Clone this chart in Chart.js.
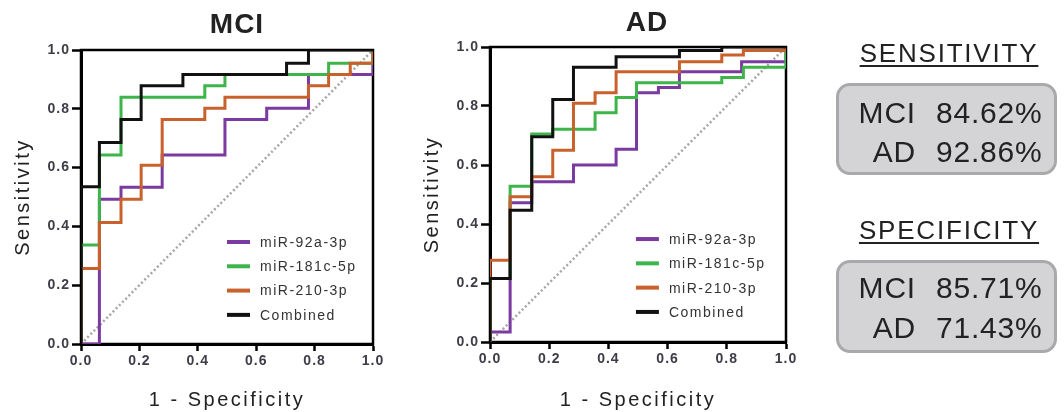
<!DOCTYPE html>
<html>
<head>
<meta charset="utf-8">
<script src="https://cdn.jsdelivr.net/npm/chart.js@4.4.0/dist/chart.umd.min.js"></script>
<style>
  body { margin: 0; background: #fff; width: 1064px; height: 412px; overflow: hidden; position: relative;
         font-family: "Liberation Sans", Arial, sans-serif; color: #222; }
  .plot { position: absolute; top: 0; height: 412px; }
  #mciWrap { left: 0; width: 472px; }
  #adWrap { left: 410px; width: 474px; }
  .ptitle { position: absolute; width: 200px; text-align: center; font-size: 28px; line-height: 28px;
            font-weight: bold; letter-spacing: 1px; color: #222; z-index: 2; }
  .head { position: absolute; left: 838px; width: 222px; text-align: center; font-size: 26px; line-height: 26px;
          letter-spacing: 1.8px; text-decoration: underline; text-decoration-thickness: 1.5px; text-underline-offset: 3px; z-index: 2; }
  .box { position: absolute; left: 836px; width: 221px; box-sizing: border-box; border: 3px solid #a9a9ab;
         border-radius: 14px; background: #d4d4d6; z-index: 2; }
  .row { position: absolute; font-size: 30px; line-height: 30px; letter-spacing: 0.8px; z-index: 3; }
  .lab { text-align: right; left: 836px; width: 80px; }
  .val { left: 936px; }
</style>
</head>
<body>
<div class="plot" id="mciWrap"><canvas id="mci"></canvas></div>
<div class="plot" id="adWrap"><canvas id="ad"></canvas></div>
<div class="ptitle" style="left:137px;top:10px">MCI</div>
<div class="ptitle" style="left:547px;top:8px">AD</div>

<div class="head" style="top:40px">SENSITIVITY</div>
<div class="box" style="top:83px;height:92px"></div>
<div class="row lab" style="top:98px">MCI</div><div class="row val" style="top:98px">84.62%</div>
<div class="row lab" style="top:137px">AD</div><div class="row val" style="top:137px">92.86%</div>

<div class="head" style="top:217px">SPECIFICITY</div>
<div class="box" style="top:260px;height:93px"></div>
<div class="row lab" style="top:273px">MCI</div><div class="row val" style="top:273px">85.71%</div>
<div class="row lab" style="top:313px">AD</div><div class="row val" style="top:313px">71.43%</div>

<script>
// tick values shared by both axes
const axisTicks = [0, 0.2, 0.4, 0.6, 0.8, 1.0];
const seriesNames = ['miR-92a-3p', 'miR-181c-5p', 'miR-210-3p', 'Combined'];
const seriesColors = ['#7a3a9f', '#3db54b', '#c9612c', '#111111'];

// MCI: 1 - specificity (x) and sensitivity (y) at each step of the ROC curves
const mci92aX  = [0, 0.063, 0.137, 0.278, 0.493, 0.636, 0.779, 1.0];
const mci92aY  = [0, 0.492, 0.533, 0.643, 0.764, 0.802, 0.917, 1.0];
const mci181cX = [0, 0, 0.063, 0.137, 0.424, 0.493, 0.848, 1.0];
const mci181cY = [0, 0.337, 0.643, 0.839, 0.878, 0.917, 0.955, 1.0];
const mci210X  = [0, 0, 0.063, 0.137, 0.206, 0.278, 0.424, 0.493, 0.779, 0.848, 0.922, 1.0];
const mci210Y  = [0, 0.257, 0.413, 0.492, 0.608, 0.764, 0.802, 0.839, 0.878, 0.917, 0.955, 1.0];
const mciCombX = [0, 0, 0.063, 0.137, 0.206, 0.349, 0.704, 0.779, 1.0];
const mciCombY = [0, 0.535, 0.685, 0.764, 0.878, 0.917, 0.955, 1.0, 1.0];

// AD
const ad92aX  = [0, 0, 0.068, 0.141, 0.282, 0.426, 0.495, 0.569, 0.640, 0.850, 1.0];
const ad92aY  = [0, 0.034, 0.472, 0.543, 0.600, 0.653, 0.845, 0.863, 0.916, 0.950, 1.0];
const ad181cX = [0, 0, 0.068, 0.141, 0.212, 0.355, 0.426, 0.495, 0.783, 0.856, 1.0];
const ad181cY = [0, 0.215, 0.528, 0.705, 0.721, 0.777, 0.829, 0.879, 0.897, 0.931, 1.0];
const ad210X  = [0, 0, 0.068, 0.141, 0.212, 0.282, 0.355, 0.426, 0.640, 0.783, 0.856, 1.0];
const ad210Y  = [0, 0.277, 0.492, 0.560, 0.650, 0.809, 0.845, 0.916, 0.950, 0.973, 0.988, 1.0];
const adCombX = [0, 0, 0.068, 0.141, 0.212, 0.282, 0.426, 0.640, 0.783, 1.0];
const adCombY = [0, 0.215, 0.447, 0.696, 0.822, 0.931, 0.967, 0.988, 1.0, 1.0];

// chance line
const chanceX = [0, 1];
const chanceY = [0, 1];

const FONT = '"Liberation Sans", Arial, sans-serif';

function pts(xs, ys) {
    return xs.map((x, i) => ({ x: x, y: ys[i] }));
}

// closes the box on top and right
const frame = {
    id: 'frame',
    beforeDatasetsDraw(chart) {
        const { ctx, chartArea: a } = chart;
        ctx.save();
        ctx.strokeStyle = '#000';
        ctx.lineWidth = 2.5;
        ctx.strokeRect(a.left, a.top, a.right - a.left, a.bottom - a.top);
        ctx.restore();
    }
};

// legend drawn inside the plot, lower right
const innerLegend = {
    id: 'innerLegend',
    afterDatasetsDraw(chart, args, opts) {
        const { ctx, chartArea: a } = chart;
        const x = a.left + opts.x * (a.right - a.left);
        let y = a.top + opts.y * (a.bottom - a.top);
        ctx.save();
        ctx.font = '14px ' + FONT;
        ctx.letterSpacing = '1.5px';
        ctx.fillStyle = '#333';
        ctx.textBaseline = 'middle';
        chart.data.datasets.forEach(ds => {
            if (!ds.label) return;
            ctx.strokeStyle = ds.borderColor;
            ctx.lineWidth = 4;
            ctx.beginPath();
            ctx.moveTo(x, y);
            ctx.lineTo(x + 23, y);
            ctx.stroke();
            ctx.fillText(ds.label, x + 33, y + 1);
            y += opts.gap;
        });
        ctx.restore();
    }
};

// wider spacing on axis titles, a little on the rest
const spacing = {
    id: 'spacing',
    beforeDraw(chart) {
        chart.ctx.letterSpacing = '1px';
        Object.values(chart.scales).forEach(s => {
            if (s._spaced) return;
            const orig = s.drawTitle.bind(s);
            s.drawTitle = function () {
                const c = this.ctx;
                const prev = c.letterSpacing;
                c.letterSpacing = '2.5px';
                orig();
                c.letterSpacing = prev;
            };
            s._spaced = true;
        });
    }
};

function makeRoc(canvasId, xs, ys, box) {
    const datasets = seriesNames.map((name, i) => ({
        label: name,
        data: pts(xs[i], ys[i]),
        borderColor: seriesColors[i],
        borderWidth: 3,
        pointRadius: 0,
        stepped: 'before',
        fill: false,
        order: 4 - i
    }));
    datasets.push({
        label: '',
        data: pts(chanceX, chanceY),
        borderColor: '#a6a6a6',
        borderWidth: 2.5,
        borderDash: [2, 2.5],
        pointRadius: 0,
        fill: false,
        order: 10
    });

    const tickFont = { family: FONT, size: 14, weight: 'bold' };
    const titleFont = { family: FONT, size: 20 };

    return new Chart(document.getElementById(canvasId), {
        type: 'line',
        data: { datasets: datasets },
        plugins: [spacing, frame, innerLegend],
        options: {
            responsive: true,
            maintainAspectRatio: false,
            animation: false,
            layout: { padding: { left: 0, bottom: 0, top: box.padTop, right: box.padRight } },
            plugins: {
                legend: { display: false },
                tooltip: { enabled: false },
                innerLegend: { x: box.legX, y: box.legY, gap: 24.3 }
            },
            scales: {
                x: {
                    type: 'linear',
                    min: 0, max: 1,
                    afterBuildTicks: s => { s.ticks = axisTicks.map(v => ({ value: v })); },
                    afterFit: s => { s.height = box.xAxisH; },
                    ticks: { color: '#3d3d48', font: tickFont, padding: 2, maxRotation: 0,
                             callback: v => Number(v).toFixed(1) },
                    grid: { drawOnChartArea: false, drawTicks: true, tickLength: 7, tickWidth: 2.5, tickColor: '#000' },
                    border: { display: true, color: '#000', width: 3 },
                    title: { display: true, text: '1 - Specificity', color: '#222', font: titleFont,
                             padding: { top: box.xTitlePad, bottom: 0 } }
                },
                y: {
                    type: 'linear',
                    min: 0, max: 1,
                    afterBuildTicks: s => { s.ticks = axisTicks.map(v => ({ value: v })); },
                    afterFit: s => { s.width = box.yAxisW; },
                    ticks: { color: '#3d3d48', font: tickFont, padding: 2,
                             callback: v => Number(v).toFixed(1) },
                    grid: { drawOnChartArea: false, drawTicks: true, tickLength: 9, tickWidth: 2.5, tickColor: '#000' },
                    border: { display: true, color: '#000', width: 3 },
                    title: { display: true, text: 'Sensitivity', color: '#222', font: titleFont,
                             padding: { top: box.yTitlePad, bottom: 0 } }
                }
            }
        }
    });
}

makeRoc('mci',
    [mci92aX, mci181cX, mci210X, mciCombX],
    [mci92aY, mci181cY, mci210Y, mciCombY],
    { padTop: 50, padRight: 99, xAxisH: 68, yAxisW: 81,
      xTitlePad: 4, yTitlePad: 11, legX: 0.5, legY: 0.653 });

makeRoc('ad',
    [ad92aX, ad181cX, ad210X, adCombX],
    [ad92aY, ad181cY, ad210Y, adCombY],
    { padTop: 47, padRight: 98, xAxisH: 70, yAxisW: 80,
      xTitlePad: 3, yTitlePad: 10, legX: 0.493, legY: 0.651 });
</script>
</body>
</html>
